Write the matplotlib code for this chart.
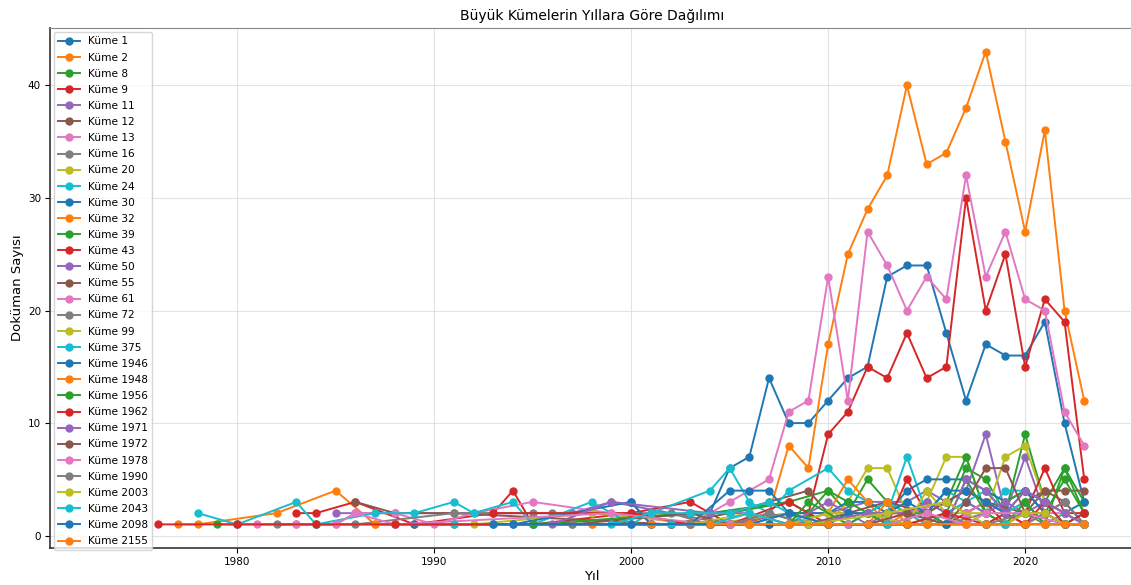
import matplotlib
matplotlib.use("Agg")
import matplotlib.pyplot as plt

# Cluster names, in legend order
cluster_names = ["Küme 1", "Küme 2", "Küme 8", "Küme 9", "Küme 11", "Küme 12", "Küme 13",
                 "Küme 16", "Küme 20", "Küme 24", "Küme 30", "Küme 32", "Küme 39", "Küme 43",
                 "Küme 50", "Küme 55", "Küme 61", "Küme 72", "Küme 99", "Küme 375",
                 "Küme 1946", "Küme 1948", "Küme 1956", "Küme 1962", "Küme 1971",
                 "Küme 1972", "Küme 1978", "Küme 1990", "Küme 2003", "Küme 2043",
                 "Küme 2098", "Küme 2155"]

# Yearly document counts per cluster: (years, counts)
k1_years = [2000, 2001, 2003, 2004, 2005, 2006, 2007, 2008, 2009, 2010, 2011, 2012, 2013, 2014, 2015, 2016, 2017, 2018, 2019, 2020, 2021, 2022, 2023]
k1_counts = [3, 1, 1, 2, 6, 7, 14, 10, 10, 12, 14, 15, 23, 24, 24, 18, 12, 17, 16, 16, 19, 10, 3]

k2_years = [1977, 1978, 1982, 1985, 1987, 1998, 2004, 2006, 2007, 2008, 2009, 2010, 2011, 2012, 2013, 2014, 2015, 2016, 2017, 2018, 2019, 2020, 2021, 2022, 2023]
k2_counts = [1, 1, 2, 4, 1, 1, 1, 1, 2, 8, 6, 17, 25, 29, 32, 40, 33, 34, 38, 43, 35, 27, 36, 20, 12]

k8_years = [1979, 1980, 1984, 1988, 1995, 2004, 2008, 2010, 2011, 2012, 2013, 2014, 2015, 2016, 2017, 2018, 2019, 2020, 2021, 2022, 2023]
k8_counts = [1, 1, 1, 1, 1, 2, 3, 4, 2, 5, 3, 2, 3, 2, 6, 5, 2, 9, 3, 6, 3]

k9_years = [1983, 1984, 1986, 1989, 1993, 1994, 1995, 2000, 2003, 2005, 2008, 2009, 2010, 2011, 2012, 2013, 2014, 2015, 2016, 2017, 2018, 2019, 2020, 2021, 2022, 2023]
k9_counts = [2, 2, 3, 1, 2, 4, 1, 2, 3, 1, 2, 2, 9, 11, 15, 14, 18, 14, 15, 30, 20, 25, 15, 21, 19, 5]

k11_years = [1985, 1986, 1997, 1999, 2005, 2008, 2010, 2012, 2014, 2015, 2016, 2017, 2018, 2019, 2020, 2021, 2022, 2023]
k11_counts = [2, 2, 2, 3, 1, 2, 2, 3, 3, 4, 3, 4, 9, 2, 7, 2, 1, 1]

k12_years = [1986, 1988, 1991, 2002, 2005, 2007, 2009, 2010, 2012, 2014, 2016, 2017, 2018, 2019, 2020, 2021, 2022, 2023]
k12_counts = [3, 2, 2, 1, 2, 3, 4, 2, 2, 2, 3, 2, 3, 2, 3, 4, 4, 4]

k13_years = [1981, 1983, 1985, 1986, 1988, 1990, 1992, 1995, 1999, 2003, 2005, 2006, 2007, 2008, 2009, 2010, 2011, 2012, 2013, 2014, 2015, 2016, 2017, 2018, 2019, 2020, 2021, 2022, 2023]
k13_counts = [1, 1, 1, 2, 2, 1, 2, 3, 2, 1, 3, 4, 5, 11, 12, 23, 12, 27, 24, 20, 23, 21, 32, 23, 27, 21, 20, 11, 8]

k16_years = [1982, 1986, 1991, 1995, 1996, 2002, 2004, 2006, 2008, 2010, 2012, 2014, 2016, 2018, 2019, 2020, 2021, 2022, 2023]
k16_counts = [1, 1, 2, 2, 2, 2, 1, 1, 2, 1, 1, 1, 1, 2, 1, 1, 2, 3, 1]

k20_years = [1992, 1998, 2004, 2008, 2010, 2011, 2012, 2013, 2014, 2015, 2016, 2017, 2018, 2019, 2020, 2021, 2022, 2023]
k20_counts = [1, 2, 1, 2, 1, 3, 6, 6, 2, 3, 7, 7, 2, 7, 8, 3, 2, 1]

k24_years = [1978, 1980, 1983, 1984, 1987, 1989, 1991, 1992, 1994, 1995, 1998, 2000, 2001, 2004, 2005, 2006, 2007, 2008, 2010, 2011, 2012, 2013, 2014, 2015, 2016, 2017, 2018, 2019, 2020, 2021, 2022, 2023]
k24_counts = [2, 1, 3, 1, 2, 2, 3, 2, 3, 1, 3, 1, 2, 4, 6, 3, 2, 4, 6, 4, 3, 2, 7, 2, 4, 3, 2, 4, 4, 3, 1, 1]

k30_years = [1989, 1993, 1994, 2000, 2001, 2003, 2005, 2006, 2007, 2008, 2010, 2011, 2012, 2013, 2014, 2015, 2016, 2017, 2018, 2019, 2020, 2021, 2022, 2023]
k30_counts = [1, 1, 1, 3, 1, 1, 4, 4, 4, 2, 2, 3, 3, 2, 4, 5, 5, 5, 4, 3, 4, 3, 2, 3]

k32_years = [1998, 2002, 2004, 2006, 2008, 2010, 2011, 2012, 2013, 2014, 2015, 2016, 2017, 2018, 2019, 2020, 2021, 2022, 2023]
k32_counts = [1, 1, 1, 1, 1, 2, 5, 3, 1, 2, 1, 2, 1, 1, 2, 1, 2, 1, 1]

k39_years = [1995, 2003, 2005, 2008, 2009, 2010, 2011, 2012, 2013, 2014, 2015, 2016, 2017, 2018, 2019, 2020, 2021, 2022, 2023]
k39_counts = [1, 2, 2, 3, 2, 4, 3, 2, 3, 2, 2, 3, 7, 2, 3, 4, 2, 5, 2]

k43_years = [1993, 2000, 2003, 2005, 2008, 2010, 2011, 2012, 2013, 2014, 2015, 2016, 2017, 2018, 2019, 2020, 2021, 2022, 2023]
k43_counts = [2, 2, 1, 1, 3, 1, 2, 2, 1, 5, 2, 1, 2, 3, 1, 2, 6, 2, 2]

k50_years = [1996, 1999, 2004, 2006, 2008, 2010, 2012, 2013, 2014, 2015, 2016, 2017, 2018, 2019, 2020, 2021, 2022, 2023]
k50_counts = [1, 3, 2, 2, 1, 3, 1, 2, 2, 3, 2, 3, 2, 3, 2, 3, 2, 1]

k55_years = [1991, 1997, 2003, 2005, 2007, 2009, 2011, 2013, 2015, 2017, 2018, 2020, 2021, 2022, 2023]
k55_counts = [1, 1, 2, 1, 2, 1, 2, 3, 2, 4, 3, 2, 4, 3, 1]

k61_years = [1983, 1985, 1986, 1988, 1999, 2004, 2006, 2008, 2010, 2011, 2012, 2014, 2016, 2017, 2018, 2019, 2020, 2021, 2022, 2023]
k61_counts = [1, 1, 2, 1, 2, 1, 2, 1, 2, 1, 1, 2, 3, 2, 3, 2, 1, 2, 2, 1]

k72_years = [1997, 2002, 2005, 2007, 2009, 2011, 2013, 2014, 2016, 2017, 2019, 2020, 2022, 2023]
k72_counts = [1, 1, 1, 2, 1, 1, 1, 1, 2, 1, 1, 1, 3, 1]

k99_years = [2000, 2003, 2006, 2008, 2010, 2012, 2014, 2015, 2016, 2018, 2019, 2020, 2021, 2022, 2023]
k99_counts = [1, 1, 2, 1, 2, 2, 1, 4, 2, 2, 2, 3, 1, 2, 1]

k375_years = [1991, 1999, 2001, 2003, 2005, 2007, 2009, 2011, 2012, 2013, 2015, 2016, 2017, 2018, 2019, 2020, 2021, 2022, 2023]
k375_counts = [1, 1, 2, 2, 2, 3, 1, 1, 2, 3, 1, 2, 3, 4, 2, 3, 1, 2, 1]

k1946_years = [1994, 2001, 2004, 2006, 2008, 2010, 2011, 2013, 2014, 2015, 2016, 2017, 2018, 2019, 2020, 2021, 2022, 2023]
k1946_counts = [1, 1, 1, 1, 2, 1, 2, 2, 3, 2, 4, 4, 3, 2, 4, 2, 1, 2]

k1948_years = [1987, 2001, 2003, 2005, 2007, 2009, 2012, 2013, 2014, 2016, 2017, 2018, 2020, 2021, 2022]
k1948_counts = [1, 1, 1, 1, 1, 1, 1, 3, 1, 1, 1, 1, 1, 1, 1]

k1956_years = [2006, 2008, 2009, 2011, 2012, 2013, 2015, 2016, 2017, 2018, 2019, 2020, 2021, 2022, 2023]
k1956_counts = [1, 1, 3, 1, 2, 1, 2, 1, 5, 2, 1, 3, 1, 6, 2]

k1962_years = [1976, 1980, 1984, 1988, 2002, 2004, 2006, 2008, 2010, 2012, 2014, 2016, 2018, 2019, 2020, 2021, 2022, 2023]
k1962_counts = [1, 1, 1, 1, 1, 1, 1, 1, 1, 1, 1, 2, 1, 2, 1, 3, 1, 2]

k1971_years = [2005, 2009, 2012, 2014, 2016, 2017, 2018, 2019, 2020, 2021, 2022, 2023]
k1971_counts = [1, 1, 2, 2, 1, 5, 4, 2, 4, 3, 2, 1]

k1972_years = [2004, 2007, 2010, 2012, 2014, 2016, 2017, 2018, 2019, 2020, 2021, 2022, 2023]
k1972_counts = [1, 1, 1, 1, 2, 1, 3, 6, 6, 2, 2, 1, 1]

k1978_years = [2005, 2008, 2011, 2013, 2015, 2017, 2018, 2020, 2022, 2023]
k1978_counts = [1, 1, 1, 1, 2, 1, 2, 2, 1, 1]

k1990_years = [2003, 2006, 2009, 2012, 2015, 2018, 2020, 2021, 2022, 2023]
k1990_counts = [1, 1, 1, 1, 1, 1, 2, 1, 1, 1]

k2003_years = [2006, 2009, 2013, 2016, 2018, 2019, 2020, 2021, 2022, 2023]
k2003_counts = [1, 1, 2, 3, 1, 1, 2, 2, 1, 1]

k2043_years = [2000, 2002, 2004, 2006, 2008, 2010, 2013, 2014, 2016, 2018, 2019, 2020, 2022, 2023]
k2043_counts = [1, 1, 1, 2, 1, 1, 1, 1, 1, 1, 1, 1, 1, 1]

k2098_years = [1993, 2000, 2004, 2007, 2010, 2012, 2014, 2016, 2018, 2020, 2022]
k2098_counts = [1, 1, 1, 1, 1, 1, 1, 1, 1, 1, 1]

k2155_years = [2004, 2006, 2008, 2010, 2012, 2014, 2015, 2017, 2018, 2020, 2021, 2022, 2023]
k2155_counts = [1, 1, 1, 1, 1, 1, 1, 1, 1, 1, 1, 1, 1]

series = [
    (k1_years, k1_counts), (k2_years, k2_counts), (k8_years, k8_counts), (k9_years, k9_counts),
    (k11_years, k11_counts), (k12_years, k12_counts), (k13_years, k13_counts), (k16_years, k16_counts),
    (k20_years, k20_counts), (k24_years, k24_counts), (k30_years, k30_counts), (k32_years, k32_counts),
    (k39_years, k39_counts), (k43_years, k43_counts), (k50_years, k50_counts), (k55_years, k55_counts),
    (k61_years, k61_counts), (k72_years, k72_counts), (k99_years, k99_counts), (k375_years, k375_counts),
    (k1946_years, k1946_counts), (k1948_years, k1948_counts), (k1956_years, k1956_counts),
    (k1962_years, k1962_counts), (k1971_years, k1971_counts), (k1972_years, k1972_counts),
    (k1978_years, k1978_counts), (k1990_years, k1990_counts), (k2003_years, k2003_counts),
    (k2043_years, k2043_counts), (k2098_years, k2098_counts), (k2155_years, k2155_counts),
]

fig = plt.figure(figsize=(11.31, 5.85), dpi=100)
ax = fig.add_axes([0.0442, 0.0632, 0.958, 0.889])

for name, (yrs, cnts) in zip(cluster_names, series):
    ax.plot(yrs, cnts, marker="o", markersize=5, linewidth=1.4, label=name)

ax.set_xlim(1970.5, 2025.5)
ax.set_ylim(-1.1, 45.1)
ax.set_xticks([1980, 1990, 2000, 2010, 2020])
ax.set_yticks([0, 10, 20, 30, 40])
ax.tick_params(labelsize=7.5, length=3.5, pad=3)
ax.grid(True, color="#dddddd", linewidth=0.8, alpha=0.8)

for side in ("left", "bottom"):
    ax.spines[side].set_color("#333333")
    ax.spines[side].set_linewidth(1.2)
ax.spines["top"].set_color("#888888")

ax.set_title("Büyük Kümelerin Yıllara Göre Dağılımı", fontsize=10, pad=6)
ax.set_xlabel("Yıl", fontsize=9.5, labelpad=2)
ax.set_ylabel("Doküman Sayısı", fontsize=9.5, labelpad=3)

ax.legend(loc="upper left", fontsize=7.6, labelspacing=0.58, handlelength=2.0,
          borderaxespad=0.4, framealpha=0.8)

fig.savefig("out.png", dpi=100)
